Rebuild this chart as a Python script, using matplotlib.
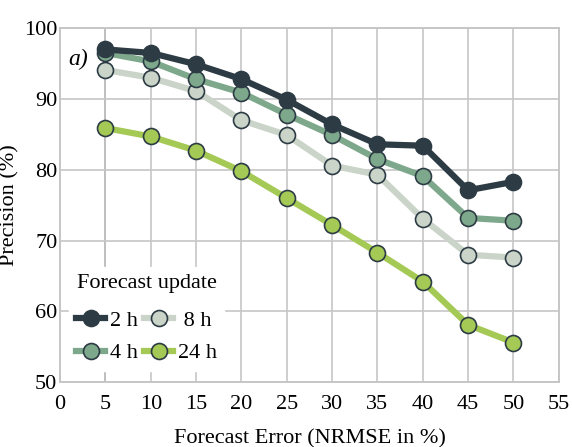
import matplotlib
matplotlib.use("Agg")
import matplotlib.pyplot as plt
from matplotlib.lines import Line2D

plt.rcParams['font.family'] = ['Liberation Serif', 'DejaVu Serif']

# Forecast error levels (NRMSE in %)
errors = [5, 10, 15, 20, 25, 30, 35, 40, 45, 50]

# Precision (%) for each forecast update horizon
prec_2h = [97.0, 96.5, 94.9, 92.8, 89.9, 86.4, 83.6, 83.4, 77.1, 78.3]
prec_4h = [96.5, 95.3, 92.8, 90.9, 87.8, 84.9, 81.5, 79.1, 73.2, 72.8]
prec_8h = [94.1, 93.0, 91.1, 87.0, 84.9, 80.6, 79.3, 73.1, 68.0, 67.6]
prec_24h = [85.9, 84.7, 82.7, 79.8, 76.0, 72.2, 68.3, 64.2, 58.1, 55.6]

labels = ["2 h", "4 h", " 8 h", "24 h"]
colors = ["#2c3b44", "#7ea88b", "#cad4c8", "#a4c955"]
edge = "#2c3b44"

x_ticks = [0, 5, 10, 15, 20, 25, 30, 35, 40, 45, 50, 55]
y_ticks = [50, 60, 70, 80, 90, 100]

fig = plt.figure(figsize=(5.72, 4.47), dpi=100)
ax = fig.add_axes([0.105, 0.145, 0.872, 0.792])

series = [prec_2h, prec_4h, prec_8h, prec_24h]
order = [3, 2, 1, 0]
for i in order:
    ax.plot(errors, series[i], color=colors[i], lw=4.5, zorder=3 + (3 - i),
            marker='o', ms=11.5, mfc=colors[i], mec=edge, mew=1.2,
            solid_joinstyle='round')

ax.set_xlim(0, 55)
ax.set_ylim(50, 100)
ax.set_xticks(x_ticks)
ax.set_yticks(y_ticks)
ax.tick_params(length=0, labelsize=16)
ax.tick_params(axis='x', pad=9)
ax.tick_params(axis='y', pad=2)
ax.grid(True, color="#c6c6c6", lw=1.2, zorder=0)
ax.axvline(5, color="#8e8e8e", lw=1.2, zorder=1)
for s in ax.spines.values():
    s.set_color("#c6c6c6")
    s.set_linewidth(1.4)

ax.set_xlabel("Forecast Error (NRMSE in %)", fontsize=16, labelpad=11)
ax.set_ylabel("Precision (%)", fontsize=16, labelpad=3)

ax.text(0.017, 0.895, "a)", transform=ax.transAxes, fontsize=17,
        style='italic', zorder=10)

handles = [Line2D([], [], color=colors[i], lw=4.5, marker='o', ms=11.5,
                  mfc=colors[i], mec=edge, mew=1.2) for i in range(4)]
leg = ax.legend(handles, labels, ncol=2, title="Forecast update",
                loc='lower left', bbox_to_anchor=(-0.005, 0.0),
                fontsize=16, title_fontsize=16, frameon=True,
                handlelength=1.3, handletextpad=0.2, columnspacing=0.3,
                labelspacing=0.55, borderpad=0.35, fancybox=False)
leg._legend_box.sep = 12
leg.get_frame().set_edgecolor('white')
leg.get_frame().set_facecolor('white')
leg.get_frame().set_alpha(1.0)
leg.set_zorder(20)

fig.savefig("out.png", dpi=100)
